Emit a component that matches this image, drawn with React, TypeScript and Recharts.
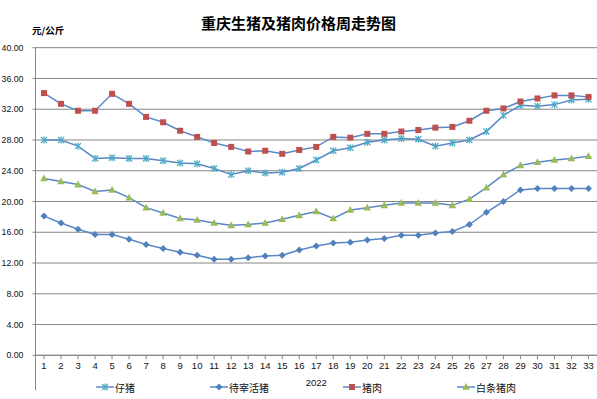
import React from "react";
import { LineChart, Line, XAxis, YAxis, CartesianGrid, Legend } from "recharts";

const weeks = ["1","2","3","4","5","6","7","8","9","10","11","12","13","14","15","16","17","18","19","20","21","22","23","24","25","26","27","28","29","30","31","32","33"];
const piglet = [28.0,28.0,27.2,25.6,25.7,25.6,25.6,25.3,25.0,24.9,24.3,23.5,24.0,23.7,23.8,24.3,25.4,26.6,27.0,27.7,28.0,28.2,28.1,27.2,27.6,28.0,29.1,31.2,32.5,32.4,32.6,33.2,33.3];
const hog = [18.1,17.2,16.4,15.7,15.7,15.1,14.4,13.9,13.4,13.0,12.5,12.5,12.7,12.9,13.0,13.7,14.2,14.6,14.7,15.0,15.2,15.6,15.6,15.9,16.1,17.0,18.6,20.0,21.5,21.7,21.7,21.7,21.7];
const pork = [34.1,32.7,31.8,31.8,34.0,32.7,31.0,30.3,29.2,28.4,27.6,27.1,26.5,26.6,26.2,26.7,27.1,28.4,28.3,28.8,28.8,29.1,29.3,29.6,29.7,30.5,31.8,32.1,33.0,33.4,33.8,33.8,33.6];
const carcass = [23.0,22.6,22.2,21.3,21.5,20.5,19.2,18.5,17.8,17.6,17.2,16.9,17.0,17.2,17.7,18.2,18.7,17.8,18.9,19.2,19.5,19.8,19.8,19.8,19.5,20.3,21.8,23.5,24.7,25.1,25.4,25.6,25.9];
const yTicks = [0,4,8,12,16,20,24,28,32,36,40];
const yearLabel = "2022";
const title = "重庆生猪及猪肉价格周走势图";
const unit = "元/公斤";

const seriesNames = { piglet: "仔猪", hog: "待宰活猪", pork: "猪肉", carcass: "白条猪肉" };

const data = weeks.map((w, i) => ({ week: w, piglet: piglet[i], hog: hog[i], pork: pork[i], carcass: carcass[i] }));

const LINE = "#5A88C6";
const CJK = "'Noto Sans CJK SC', 'Liberation Sans', sans-serif";
const NUM = "'Liberation Sans', Arial, sans-serif";

const Star = (cx: number, cy: number, key?: any) => (
  <g key={key}>
    <line x1={cx - 3} y1={cy - 3} x2={cx + 3} y2={cy + 3} stroke="#4BACC6" strokeWidth={1.3} />
    <line x1={cx - 3} y1={cy + 3} x2={cx + 3} y2={cy - 3} stroke="#4BACC6" strokeWidth={1.3} />
    <line x1={cx} y1={cy - 3.5} x2={cx} y2={cy + 3.5} stroke="#4BACC6" strokeWidth={1.3} />
  </g>
);
const Diamond = (cx: number, cy: number, key?: any) => (
  <path key={key} d={`M${cx},${cy - 3.5}L${cx + 3.5},${cy}L${cx},${cy + 3.5}L${cx - 3.5},${cy}Z`} fill="#4F81BD" />
);
const Square = (cx: number, cy: number, key?: any) => (
  <rect key={key} x={cx - 3} y={cy - 3} width={6} height={6} fill="#C0504D" />
);
const Triangle = (cx: number, cy: number, key?: any) => (
  <path key={key} d={`M${cx},${cy - 4}L${cx + 3.8},${cy + 2.8}L${cx - 3.8},${cy + 2.8}Z`} fill="#9BBB59" />
);

const mk = (fn: any) => (p: any) => fn(p.cx, p.cy, p.key ?? `${p.index}`);

const legendItems = [
  { name: seriesNames.piglet, fn: Star, left: 96 },
  { name: seriesNames.hog, fn: Diamond, left: 210 },
  { name: seriesNames.pork, fn: Square, left: 343 },
  { name: seriesNames.carcass, fn: Triangle, left: 457 },
];

const LegendContent = () => (
  <div style={{ position: "relative", height: 0, width: 597 }}>
    {legendItems.map((it) => (
      <div key={it.name} style={{ position: "absolute", left: it.left, top: 0, display: "flex", alignItems: "center", height: 14 }}>
        <svg width={18} height={14}>
          <line x1={0} y1={7} x2={18} y2={7} stroke={LINE} strokeWidth={1.5} />
          {it.fn(9, 7)}
        </svg>
        <span style={{ fontFamily: CJK, fontSize: 10, color: "#111", marginLeft: 1, whiteSpace: "nowrap" }}>{it.name}</span>
      </div>
    ))}
  </div>
);

export default function App() {
  return (
    <div style={{ position: "absolute", left: 0, top: 0, width: 597, height: 399, background: "#fff", overflow: "hidden" }}>
      <div style={{ position: "absolute", left: 0, top: 12, width: 597, textAlign: "center", fontFamily: CJK, fontWeight: 700, fontSize: 15, color: "#000", letterSpacing: 0 }}>{title}</div>
      <div style={{ position: "absolute", left: 32, top: 23, fontFamily: CJK, fontWeight: 700, fontSize: 9.5, color: "#000" }}>{unit}</div>
      <LineChart width={597} height={399} data={data} margin={{ top: 47.7, right: 0, left: 0, bottom: 13.7 }}>
        <CartesianGrid vertical={false} stroke="#868686" strokeWidth={1} />
        <XAxis
          dataKey="week"
          height={30}
          interval={0}
          padding={{ left: 8.5, right: 8.5 }}
          tickSize={4}
          tickMargin={3}
          axisLine={{ stroke: "#868686" }}
          tickLine={{ stroke: "#868686" }}
          tick={{ fontFamily: NUM, fontSize: 9.5, fill: "#111" }}
          label={{ value: yearLabel, position: "bottom", offset: -6, style: { fontFamily: NUM, fontSize: 9.5, fill: "#111" } }}
        />
        <YAxis
          width={35.5}
          domain={[0, 40]}
          ticks={yTicks}
          interval={0}
          tickSize={3}
          tickMargin={9}
          tickFormatter={(v: number) => v.toFixed(2)}
          axisLine={{ stroke: "#868686" }}
          tickLine={{ stroke: "#868686" }}
          tick={{ fontFamily: NUM, fontSize: 8.8, fill: "#111" }}
        />
        <Legend content={<LegendContent />} wrapperStyle={{ position: "absolute", left: 0, top: 380, width: 597, height: 0 }} />
        <Line dataKey="piglet" name={seriesNames.piglet} stroke={LINE} strokeWidth={1.5} dot={mk(Star)} activeDot={false} isAnimationActive={false} />
        <Line dataKey="hog" name={seriesNames.hog} stroke={LINE} strokeWidth={1.5} dot={mk(Diamond)} activeDot={false} isAnimationActive={false} />
        <Line dataKey="pork" name={seriesNames.pork} stroke={LINE} strokeWidth={1.5} dot={mk(Square)} activeDot={false} isAnimationActive={false} />
        <Line dataKey="carcass" name={seriesNames.carcass} stroke={LINE} strokeWidth={1.5} dot={mk(Triangle)} activeDot={false} isAnimationActive={false} />
      </LineChart>
      <div style={{ position: "absolute", left: 35, top: 355, width: 1, height: 35, background: "#868686" }} />
    </div>
  );
}
